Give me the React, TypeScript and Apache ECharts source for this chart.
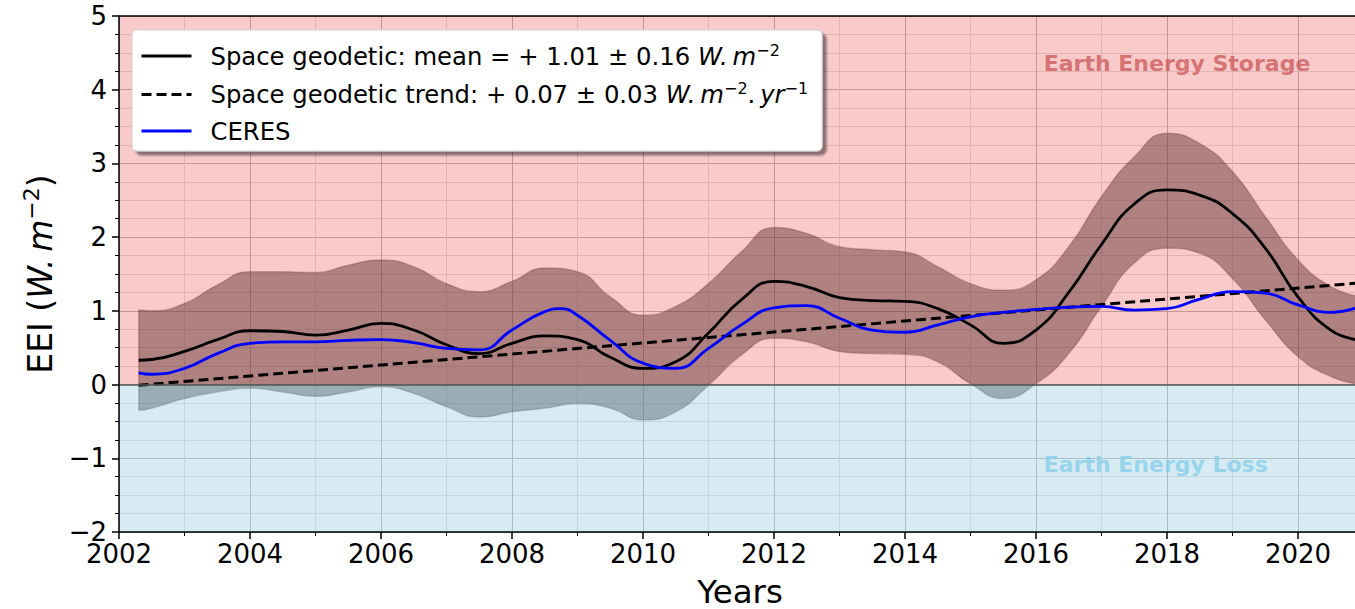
import React, { useEffect, useRef } from "react";
import * as echarts from "echarts";

// ---------- data ----------
const years = [
  2002.3, 2002.5, 2003, 2003.5, 2004, 2004.5, 2005, 2005.5, 2006, 2006.5,
  2007, 2007.5, 2008, 2008.5, 2009, 2009.5, 2010, 2010.5, 2011, 2011.5,
  2012, 2012.5, 2013, 2013.5, 2014, 2014.5, 2015, 2015.5, 2016, 2016.5,
  2017, 2017.5, 2018, 2018.5, 2019, 2019.5, 2020, 2020.5, 2020.95,
];
const meanEEI = [
  0.33, 0.34, 0.45, 0.61, 0.73, 0.72, 0.67, 0.74, 0.83, 0.74,
  0.54, 0.42, 0.56, 0.66, 0.61, 0.37, 0.22, 0.31, 0.7, 1.15,
  1.4, 1.33, 1.18, 1.14, 1.13, 1.03, 0.81, 0.56, 0.74, 1.25,
  1.9, 2.45, 2.64, 2.57, 2.32, 1.85, 1.19, 0.74, 0.6,
];
const upperEEI = [
  1.01, 1.0, 1.1, 1.35, 1.53, 1.53, 1.52, 1.62, 1.69, 1.6,
  1.37, 1.26, 1.4, 1.58, 1.53, 1.19, 0.94, 1.06, 1.37, 1.8,
  2.13, 2.05, 1.87, 1.83, 1.8, 1.6, 1.37, 1.28, 1.42, 1.87,
  2.55, 3.09, 3.41, 3.27, 2.89, 2.28, 1.69, 1.33, 1.19,
];
const lowerEEI = [
  -0.35, -0.32, -0.19, -0.1, -0.05, -0.1, -0.16, -0.1, -0.03, -0.12,
  -0.3, -0.44, -0.37, -0.32, -0.26, -0.32, -0.48, -0.37, -0.01, 0.4,
  0.63, 0.58, 0.45, 0.42, 0.41, 0.31, 0.01, -0.19, 0.01, 0.42,
  1.06, 1.65, 1.85, 1.78, 1.44, 0.88, 0.38, 0.11, 0.0,
];
const ceresYears = [
  2002.3, 2002.5, 2003, 2003.5, 2004, 2004.5, 2005, 2005.5, 2006, 2006.5,
  2007, 2007.5, 2008, 2008.5, 2008.75, 2009, 2009.5, 2010, 2010.5, 2011, 2011.5,
  2012, 2012.5, 2013, 2013.5, 2014, 2014.5, 2015, 2015.5, 2016, 2016.5,
  2017, 2017.5, 2018, 2018.5, 2019, 2019.5, 2020, 2020.5, 2020.95,
];
const ceresEEI = [
  0.16, 0.14, 0.22, 0.42, 0.56, 0.58, 0.58, 0.6, 0.61, 0.57,
  0.49, 0.47, 0.74, 0.99, 1.03, 0.94, 0.6, 0.29, 0.22, 0.49, 0.81,
  1.04, 1.07, 0.9, 0.74, 0.71, 0.81, 0.92, 0.98, 1.02, 1.05,
  1.06, 1.01, 1.03, 1.16, 1.26, 1.24, 1.08, 0.98, 1.06,
];
const trendYears = [2002.3, 2020.95];
const trendEEI = [-0.01, 1.38];

const xRange = [2002, 2022];
const xStep = 2;
const yRange = [-2, 5];
const yStep = 1;

const seriesNames = {
  mean: "Space geodetic: mean",
  trend: "Space geodetic trend",
  ceres: "CERES",
};
const legendTexts: Record<string, string> = {
  [seriesNames.mean]: "{g|}{n|Space geodetic: mean = + 1.01 ± 0.16 }{i|W.\u2009m}{s|−2}",
  [seriesNames.trend]: "{g|}{n|Space geodetic trend: + 0.07 ± 0.03 }{i|W.\u2009m}{s|−2}{n|.\u2009}{i|yr}{s|−1}",
  [seriesNames.ceres]: "{g|}{n|CERES}",
};
const regionLabels = [
  { x: 2016.11, y: 4.36, text: "Earth Energy Storage", color: "#cd5c5c" },
  { x: 2016.11, y: -1.08, text: "Earth Energy Loss", color: "#87ceeb" },
];

const FONT = "DejaVu Sans";

export default function App() {
  const ref = useRef<HTMLDivElement>(null);

  useEffect(() => {
    if (!ref.current) return;
    const chart = echarts.init(ref.current, null, { renderer: "svg" });

    // band data given as [value, year] so that the stack runs on the value dimension
    const lowerPts = years.map((x, i) => [lowerEEI[i], x]);
    const spanPts = years.map((x, i) => [+(upperEEI[i] - lowerEEI[i]).toFixed(3), x]);
    const meanPts = years.map((x, i) => [x, meanEEI[i]]);
    const ceresPts = ceresYears.map((x, i) => [x, ceresEEI[i]]);
    const trendPts = trendYears.map((x, i) => [x, trendEEI[i]]);
    const bandEdgeColor = "rgba(40,0,0,0.32)";

    const minus = (v: number) => String(v).replace("-", "−");

    const option: any = {
      animation: false,
      textStyle: { fontFamily: FONT },
      grid: { left: 119, width: 1310, top: 16, bottom: 77, containLabel: false, outerBoundsMode: "none" },
      xAxis: [
        {
          type: "value",
          position: "bottom",
          min: xRange[0],
          max: xRange[1],
          interval: xStep,
          z: 10,
          axisLine: { show: true, onZero: false, lineStyle: { color: "#000", width: 1.5 } },
          axisTick: { show: true, length: 7, lineStyle: { color: "#000", width: 1.5 } },
          minorTick: { show: true, splitNumber: 2, length: 4, lineStyle: { color: "#000", width: 1 } },
          axisLabel: {
            fontSize: 26,
            color: "#000",
            margin: 9,
            fontFamily: FONT,
            showMaxLabel: false,
            formatter: (v: number) => String(v),
          },
          splitLine: { show: false },
          name: "Years",
          nameLocation: "middle",
          nameGap: 43,
          nameTextStyle: { fontSize: 32.5, color: "#000", fontFamily: FONT, padding: [0, 68, 0, 0] },
        },
        {
          type: "value",
          position: "top",
          min: xRange[0],
          max: xRange[1],
          interval: xStep,
          z: 0,
          axisLine: { show: false },
          axisTick: { show: false },
          axisLabel: { show: false },
          minorTick: { show: false, splitNumber: 2 },
          splitLine: { show: true, lineStyle: { color: "#a4a4a4", width: 1 } },
          minorSplitLine: { show: true, lineStyle: { color: "#d6d6d6", width: 1 } },
        },
      ],
      yAxis: [
        {
          type: "value",
          position: "left",
          min: yRange[0],
          max: yRange[1],
          interval: yStep,
          z: 10,
          axisLine: { show: true, onZero: false, lineStyle: { color: "#000", width: 1.5 } },
          axisTick: { show: true, length: 7, lineStyle: { color: "#000", width: 1.5 } },
          minorTick: { show: true, splitNumber: 4, length: 4, lineStyle: { color: "#000", width: 1 } },
          axisLabel: { fontSize: 26, color: "#000", margin: 12, fontFamily: FONT, formatter: minus },
          splitLine: { show: false },
          name: "{n|EEI (}{i|W.\u2009m}{s|−2}{n|)}",
          nameLocation: "middle",
          nameRotate: 90,
          nameGap: 59,
          nameTextStyle: {
            fontSize: 33,
            color: "#000",
            fontFamily: FONT,
            rich: {
              n: { fontSize: 33, fontFamily: FONT, color: "#000", lineHeight: 40 },
              i: { fontSize: 33, fontFamily: FONT, fontStyle: "italic", color: "#000", lineHeight: 40 },
              s: { fontSize: 22, fontFamily: FONT, color: "#000", lineHeight: 24, verticalAlign: "top" },
            },
          },
        },
        {
          type: "value",
          position: "right",
          min: yRange[0],
          max: yRange[1],
          interval: yStep,
          z: 0,
          axisLine: { show: false },
          axisTick: { show: false },
          axisLabel: { show: false },
          minorTick: { show: false, splitNumber: 4 },
          splitLine: { show: true, lineStyle: { color: "#a4a4a4", width: 1 } },
          minorSplitLine: { show: true, lineStyle: { color: "#d6d6d6", width: 1 } },
        },
      ],
      legend: {
        data: [seriesNames.mean, seriesNames.trend, seriesNames.ceres],
        orient: "vertical",
        left: 132,
        top: 30,
        itemWidth: 50,
        itemHeight: 14,
        itemGap: 12.5,
        padding: [12, 14, 8, 8],
        selectedMode: false,
        backgroundColor: "#fff",
        borderColor: "#d0d0d0",
        borderWidth: 1,
        borderRadius: 5,
        shadowColor: "rgba(0,0,0,0.45)",
        shadowOffsetX: 4,
        shadowOffsetY: 4,
        shadowBlur: 2,
        z: 20,
        itemStyle: { opacity: 0, borderWidth: 0 },
        lineStyle: { width: 3 },
        formatter: (name: string) => legendTexts[name] ?? name,
        textStyle: {
          fontSize: 24,
          color: "#000",
          fontFamily: FONT,
          rich: {
            g: { width: 14 },
            n: { fontSize: 24.3, fontFamily: FONT, color: "#000", lineHeight: 28 },
            i: { fontSize: 24.3, fontFamily: FONT, fontStyle: "italic", color: "#000", lineHeight: 28 },
            s: { fontSize: 16, fontFamily: FONT, color: "#000", lineHeight: 18, verticalAlign: "top" },
          },
        },
      },
      series: [
        {
          name: "bandLower",
          type: "line",
          data: lowerPts,
          encode: { x: 1, y: 0 },
          stack: "band",
          stackStrategy: "all",
          smooth: true,
          symbol: "none",
          silent: true,
          z: 2,
          lineStyle: { color: bandEdgeColor, width: 1.5 },
        },
        {
          name: "bandSpan",
          type: "line",
          data: spanPts,
          encode: { x: 1, y: 0 },
          stack: "band",
          stackStrategy: "all",
          smooth: true,
          symbol: "none",
          silent: true,
          z: 2,
          lineStyle: { color: bandEdgeColor, width: 1.5 },
          areaStyle: { color: "rgba(0,0,0,0.49)", opacity: 1 },
        },
        {
          name: "background",
          type: "line",
          data: [],
          silent: true,
          z: 3,
          markArea: {
            silent: true,
            z: 3,
            itemStyle: { borderWidth: 0 },
            data: [
              [{ yAxis: 0, itemStyle: { color: "rgba(240,128,128,0.42)" } }, { yAxis: yRange[1] }],
              [{ yAxis: yRange[0], itemStyle: { color: "rgba(173,216,230,0.5)" } }, { yAxis: 0 }],
            ],
          },
          markLine: {
            silent: true,
            z: 9,
            symbol: "none",
            label: { show: false },
            data: [
              { yAxis: 0, lineStyle: { color: "#555", width: 1.5, type: "solid" } },
              { yAxis: yRange[1], lineStyle: { color: "#000", width: 1.5, type: "solid" } },
            ],
          },
        },
        {
          name: seriesNames.mean,
          type: "line",
          data: meanPts,
          smooth: true,
          symbol: "none",
          z: 5,
          lineStyle: { color: "#000", width: 2.8 },
          itemStyle: { color: "#000" },
          markLine: {
            silent: true,
            z: 2,
            symbol: "none",
            label: { show: false },
            lineStyle: { color: bandEdgeColor, width: 1.5, type: "solid" },
            data: [[{ coord: [years[0], lowerEEI[0]] }, { coord: [years[0], upperEEI[0]] }]],
          },
        },
        {
          name: seriesNames.trend,
          type: "line",
          data: trendPts,
          symbol: "none",
          z: 5,
          lineStyle: { color: "#000", width: 3, type: [10, 5] },
          itemStyle: { color: "#000" },
        },
        {
          name: seriesNames.ceres,
          type: "line",
          data: ceresPts,
          smooth: true,
          symbol: "none",
          z: 5,
          lineStyle: { color: "#0000ff", width: 2.8 },
          itemStyle: { color: "#0000ff" },
        },
        {
          name: "regions",
          type: "scatter",
          symbolSize: 1,
          silent: true,
          z: 6,
          itemStyle: { color: "rgba(0,0,0,0)" },
          data: regionLabels.map((r) => ({
            value: [r.x, r.y],
            label: {
              show: true,
              position: "right",
              distance: 0,
              formatter: r.text,
              color: r.color,
              fontSize: 22,
              fontWeight: "bold",
              fontFamily: FONT,
            },
          })),
        },
      ],
    };

    chart.setOption(option);
    return () => chart.dispose();
  }, []);

  return (
    <div
      ref={ref}
      style={{ position: "fixed", left: 0, top: 0, width: 1355, height: 609, overflow: "hidden", background: "#fff" }}
    />
  );
}
